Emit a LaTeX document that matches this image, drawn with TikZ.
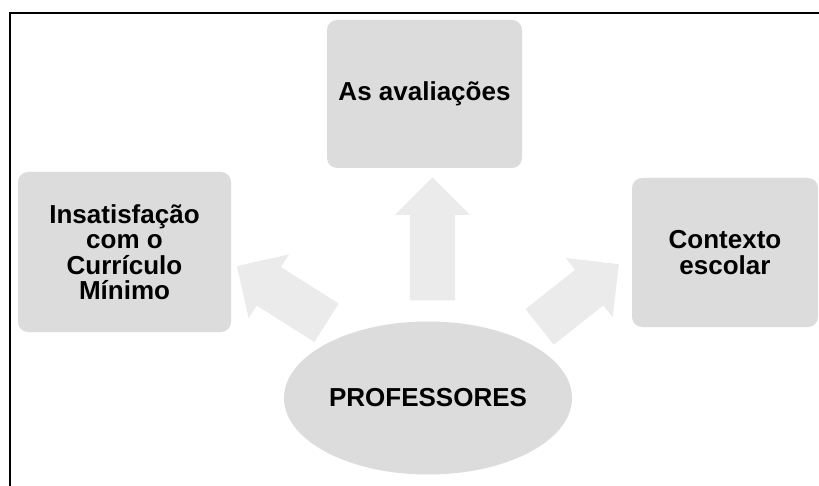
\documentclass[tikz,border=0pt]{standalone}
\usepackage{fontspec}
\setmainfont{Liberation Sans}
\usetikzlibrary{shapes.geometric,shapes.arrows}
\definecolor{boxgray}{RGB}{220,220,220}
\definecolor{arrowgray}{RGB}{235,235,235}

\begin{document}
\begin{tikzpicture}[x=1pt,y=-1pt,
  lbl/.style={font=\bfseries\fontsize{26}{25.5}\selectfont, align=center, text=black},
  card/.style={lbl, fill=boxgray, rounded corners=10pt, inner sep=0pt},
  hub/.style={lbl, ellipse, fill=boxgray, inner sep=0pt},
  fatarrow/.style={single arrow, fill=arrowgray, draw=none,
    single arrow head extend=15pt, inner xsep=0pt, inner ysep=22.5pt,
    single arrow tip angle=90, anchor=tip}]
\useasboundingbox (0,0) rectangle (819,486);
\fill[white] (0,0) rectangle (819,486);
% frame
\draw[line width=2pt] (10,488) -- (10,13) -- (821,13);

% wide arrows pointing outwards from the centre, placed by their tips
\node[fatarrow, minimum height=123pt, rotate=90]    (aup)    at (432.5,177) {};
\node[fatarrow, minimum height=106pt, rotate=147.7] (aleft)  at (236.7,266) {};
\node[fatarrow, minimum height=101pt, rotate=38.4]  (aright) at (619,264)   {};

% boxes
\node[card, minimum width=195pt, minimum height=148pt] (top)   at (424.5,94)  {As avaliações};
\node[card, minimum width=213pt, minimum height=160pt] (left)  at (124.5,252) {Insatisfação\\com o\\Currículo\\Mínimo};
\node[card, minimum width=186pt, minimum height=149pt] (right) at (725,252.5)  {Contexto\\escolar};

% centre
\node[hub, minimum width=288pt, minimum height=153pt] (prof) at (428,398) {PROFESSORES};
\end{tikzpicture}
\end{document}
